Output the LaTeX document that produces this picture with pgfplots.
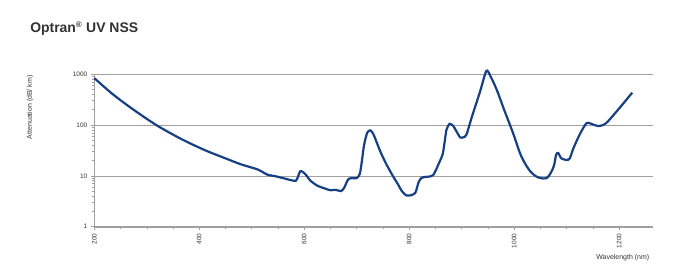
\documentclass[border=0pt]{standalone}
\usepackage{pgfplots}
\pgfplotsset{compat=1.18}
\usepackage{fontspec}
\setmainfont{Liberation Sans}
\definecolor{navy}{HTML}{173F84}
\definecolor{gridg}{HTML}{A0A0A0}
\definecolor{titleg}{HTML}{333333}
\begin{document}
\begin{tikzpicture}
\path[use as bounding box, fill=white] (0,0) rectangle (680bp,280bp);
\begin{axis}[
  at={(94.3bp,53.3bp)}, anchor=south west,
  scale only axis, width=558.4bp, height=152.7bp,
  ymode=log, ymin=1, ymax=1000,
  xmin=200, xmax=1264,
  xtick={200,400,600,800,1000,1200},
  minor x tick num=3,
  ytick={1,10,100,1000},
  yticklabels={1,10,100,1000},
  axis x line*=bottom, axis y line*=left,
  axis line style={gridg, -},
  tick style={gridg, line width=0.5pt},
  tick align=outside,
  major tick length=3.5bp, minor tick length=2.5bp,
  ymajorgrids, major grid style={gridg, line width=0.6pt},
  /pgf/number format/assume math mode=true,
  ticklabel style={font=\fontsize{6.5}{7}\selectfont, text=black!80},
  xticklabel style={rotate=90, anchor=east, xshift=0bp},
  yticklabel style={anchor=east},
  xticklabels={200,400,600,800,1000,1200},
  xlabel={Wavelength (nm)},
  xlabel style={at={(axis description cs:1,-0.205)}, anchor=east, font=\fontsize{7}{8}\selectfont, text=black!80},
  ylabel={Attenuation (dB/ km)},
  ylabel style={at={(axis description cs:-0.115,1.013)}, anchor=east, rotate=0, font=\fontsize{7}{8}\selectfont, text=black!80},
  clip=false,
]
\addplot[navy, line width=2.2pt, smooth, tension=0.45] coordinates {
(200,830) (234,410) (272,208) (319,98) (367,52) (411,31.8)
(450,22) (478,17) (500,14.5) (510,13.5) (520,12) (530,10.5) (545,9.8)
(560,9.0) (575,8.2) (584,8.0) (588,9.5) (592,12.2) (597,12.0) (603,10.5) (612,8.0)
(625,6.4) (640,5.6) (650,5.2) (660,5.3) (670,5.0) (676,5.8) (684,8.6) (692,9.0)
(700,9.0) (706,11) (710,20) (714,40) (720,70) (726,78) (732,65) (745,30)
(757,16.5) (770,9.5) (778,7) (786,5) (795,4.1) (805,4.2) (812,4.7) (818,7.5)
(824,9.2) (835,9.6) (846,10.4) (858,19) (864,27) (868,50) (871,80) (877,105)
(884,95) (890,75) (897,57) (903,57) (909,64) (920,150) (935,450) (947,1150)
(955,900) (967,485) (980,210) (992,100) (1000,60) (1011,28) (1020,18) (1030,12.5)
(1040,10) (1050,9.0) (1062,9.0) (1070,11.5) (1076,16) (1080,26) (1084,28) (1090,22)
(1100,20.5) (1106,22) (1113,35) (1125,65) (1138,108) (1150,102) (1160,95) (1170,100)
(1179,118) (1200,210) (1225,430)
};
\node[anchor=base west, font=\fontsize{14}{16}\selectfont\bfseries, text=titleg]
  at (axis description cs:-0.121,1.2705) {Optran\textsuperscript{\fontsize{8}{8}\selectfont ®} UV NSS};
\end{axis}
\end{tikzpicture}
\end{document}
